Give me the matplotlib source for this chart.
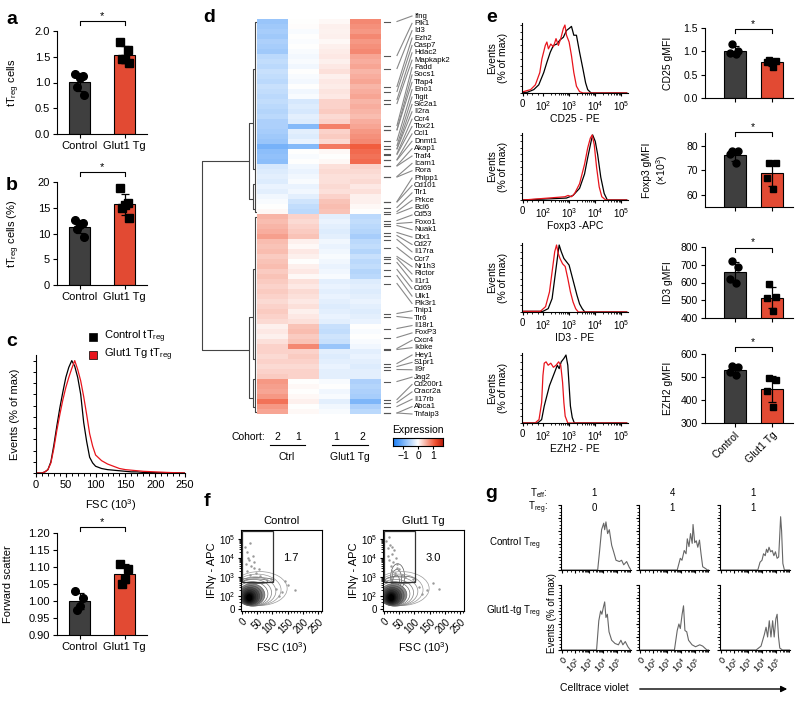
import numpy as np
import matplotlib
matplotlib.use('Agg')
import matplotlib.pyplot as plt
from matplotlib.patches import Rectangle, Ellipse
from matplotlib.colors import LinearSegmentedColormap

plt.rcParams['font.family'] = ['Liberation Sans', 'DejaVu Sans']
plt.rcParams['mathtext.fontset'] = 'custom'
plt.rcParams['mathtext.rm'] = 'Liberation Sans'
plt.rcParams['mathtext.it'] = 'Liberation Sans:italic'
plt.rcParams['mathtext.default'] = 'regular'
plt.rcParams['axes.linewidth'] = 0.8
plt.rcParams['xtick.major.width'] = 0.8
plt.rcParams['ytick.major.width'] = 0.8

# ------------------------------------------------------------------ DATA
groups = ['Control', 'Glut1 Tg']
a_ctrl = [1.17, 1.12, 1.09, 0.91, 0.75]
a_tg = [1.79, 1.63, 1.45, 1.45, 1.38]
b_ctrl = [12.7, 12.0, 11.6, 10.8, 9.4]
b_tg = [18.8, 15.9, 15.5, 14.9, 13.1]
fsc_ctrl = [1.03, 1.01, 0.985, 0.975]
fsc_tg = [1.11, 1.095, 1.065, 1.05]

c_x = [0, 10, 15, 20, 25, 30, 35, 40, 45, 50, 55, 60, 65, 70, 75, 80, 85, 90, 95, 100,
       110, 120, 130, 140, 150, 160, 170, 180, 200, 220, 250]
c_ctrl = [0, 0, 1, 3, 10, 25, 42, 58, 72, 85, 94, 100, 95, 85, 70, 45, 28, 14, 9, 6,
          4, 3, 2.5, 2, 1.5, 1, 1, 0.5, 0.3, 0.2, 0]
c_tg = [0, 0, 1, 3, 9, 22, 38, 52, 65, 76, 85, 93, 100, 92, 82, 68, 52, 35, 24, 16,
        11, 8, 6, 4, 3, 2.5, 2, 1.5, 1, 0.5, 0]

# heatmap (rows x 4 columns: Ctrl cohort2, Ctrl cohort1, Glut1 cohort1, Glut1 cohort2)
hm_ctrl2 = [-0.75, -0.7, -0.65, -0.7, -0.6, -0.65, -0.7, -0.5, -0.45, -0.5, -0.4, -0.45, -0.5, -0.4, -0.45, -0.5,
            -0.45, -0.5, -0.55, -0.5, -0.6, -0.6, -0.65, -0.7, -0.75, -1.0, -0.85, -0.8, -0.85, -0.3, -0.25,
            -0.2, -0.25, -0.15, -0.2, -0.1, -0.05, 0.0, 0.05,
            0.5, 0.45, 0.5, 0.55, 0.65, 0.45, 0.4, 0.45, 0.35, 0.4, 0.45, 0.35, 0.4,
            0.35, 0.3, 0.35, 0.3, 0.25, 0.3, 0.35, 0.3, 0.25, 0.1, 0.15, 0.1, 0.2, 0.3,
            0.3, 0.25, 0.3, 0.25, 0.3, 0.35, 0.7, 0.65, 0.6, 0.7, 0.95, 0.7, 0.6]
hm_ctrl1 = [0.0, 0.02, -0.05, 0.0, -0.03, 0.0, -0.05, -0.08, -0.05, -0.1, 0.0, -0.05, -0.08, 0.0, -0.1, -0.05,
            -0.3, -0.25, -0.3, -0.2, -0.25, -0.9, -0.2, -0.25, -0.15, -0.9, 0.0, -0.05, 0.0, -0.1, -0.15,
            -0.1, -0.05, -0.15, -0.1, -0.2, -0.35, -0.45, -0.5,
            0.3, 0.25, 0.3, 0.35, 0.4, 0.1, 0.05, 0.15, 0.1, 0.0, 0.1, 0.15, 0.05,
            0.2, 0.15, 0.25, 0.2, 0.15, 0.2, 0.1, 0.15, 0.2, 0.4, 0.45, 0.35, 0.4, 0.8,
            0.3, 0.35, 0.3, 0.25, 0.3, 0.3, 0.0, 0.05, 0.0, 0.05, 0.1, 0.0, 0.05]
hm_tg1 = [0.05, 0.1, 0.08, 0.1, 0.05, 0.1, 0.12, 0.15, 0.1, 0.15, 0.2, 0.1, 0.15, 0.12, 0.18, 0.15,
          0.3, 0.3, 0.35, 0.25, 0.3, 0.85, 0.3, 0.35, 0.25, 0.9, 0.05, 0.0, 0.05, 0.2, 0.25,
          0.2, 0.2, 0.25, 0.2, 0.3, 0.4, 0.45, 0.4,
          -0.2, -0.15, -0.2, -0.25, -0.2, -0.1, -0.15, -0.1, -0.05, -0.1, -0.15, -0.1, -0.05,
          -0.2, -0.15, -0.2, -0.15, -0.2, -0.25, -0.2, -0.15, -0.2, -0.4, -0.45, -0.35, -0.4, -0.75,
          -0.2, -0.25, -0.2, -0.15, -0.2, -0.2, -0.05, 0.0, -0.1, -0.05, -0.2, -0.1, -0.05]
hm_tg2 = [0.8, 0.75, 0.7, 0.8, 0.7, 0.75, 0.8, 0.6, 0.55, 0.6, 0.5, 0.55, 0.6, 0.5, 0.55, 0.6,
          0.5, 0.55, 0.5, 0.45, 0.55, 0.6, 0.7, 0.75, 0.8, 1.1, 1.0, 0.95, 1.0, 0.3, 0.25,
          0.2, 0.25, 0.15, 0.2, 0.1, 0.1, 0.05, 0.0,
          -0.5, -0.45, -0.5, -0.55, -0.65, -0.5, -0.45, -0.55, -0.4, -0.5, -0.45, -0.55, -0.5,
          -0.25, -0.2, -0.25, -0.2, -0.15, -0.2, -0.25, -0.2, -0.15, 0.0, -0.05, 0.0, -0.05, -0.1,
          -0.2, -0.15, -0.2, -0.25, -0.2, -0.2, -0.6, -0.55, -0.6, -0.65, -0.95, -0.6, -0.5]
cohorts = ['2', '1', '1', '2']
hm_groups = ['Ctrl', 'Glut1 Tg']

genes = ['Ifng', 'Plk1', 'Id3', 'Ezh2', 'Casp7', 'Hdac2', 'Mapkapk2', 'Fadd', 'Socs1', 'Tfap4', 'Eno1',
         'Tigit', 'Slc2a1', 'Il2ra', 'Ccr4', 'Tbx21', 'Ccl1', 'Dnmt1', 'Akap1', 'Traf4', 'Icam1', 'Rora',
         'Phlpp1', 'Cd101', 'Tlr1', 'Prkce', 'Bcl6', 'Cd53', 'Foxo1', 'Nuak1', 'Dtx1', 'Cd27', 'Il17ra',
         'Ccr7', 'Nr1h3', 'Rictor', 'Il1r1', 'Cd69', 'Ulk1', 'Pik3r1', 'Tnip1', 'Tlr6', 'Il18r1', 'FoxP3',
         'Cxcr4', 'Ikbke', 'Hey1', 'S1pr1', 'Il9r', 'Jag2', 'Cd200r1', 'Cracr2a', 'Il17rb', 'Abca1', 'Tnfaip3']
gene_rows = [0.0, 6.8, 9.4, 13.0, 14.0, 15.6, 16.4, 20.8, 21.6, 21.7, 23.8, 24.8, 25.4, 25.5, 26.4, 26.6,
             27.6, 27.7, 28.8, 28.9, 31.0, 31.1, 36.0, 36.1, 37.2, 38.0, 38.4,
             39.8, 40.4, 40.8, 42.2, 42.8, 43.6, 45.2, 47.0, 47.4, 48.2, 49.6, 50.8, 52.4, 58.4, 59.0,
             61.4, 63.2, 65.4, 65.6, 68.4, 69.0, 69.6, 72.0, 75.6, 76.2, 77.0, 78.4, 78.8]
# dendrogram links: (height, y_top, y_bottom, child_height_top, child_height_bottom)
dendro_links = [(1.0, 28.4, 66.2, 0.14, 0.14),
                (0.14, 20.8, 36.0, 0.07, 0.07),
                (0.14, 59.6, 75.8, 0.07, 0.07),
                (0.07, 10.0, 30.0, 0.035, 0.035),
                (0.07, 33.0, 38.0, 0.035, 0.035),
                (0.07, 50.0, 68.0, 0.035, 0.035),
                (0.07, 72.0, 77.5, 0.035, 0.035),
                (0.035, 0.5, 38.5, 0.0, 0.0),
                (0.035, 39.5, 78.5, 0.0, 0.0)]

# panel e histograms (x in log10 display units)
cd25_r_x = [1.25, 1.53, 1.71, 1.88, 1.96, 2.09, 2.15, 2.21, 2.3, 2.4, 2.5, 2.59, 2.68, 2.78, 2.84, 2.9, 3.0, 3.09, 3.18, 3.28, 3.4, 3.53, 5.2]
cd25_r_y = [0.02, 0.05, 0.12, 0.3, 0.5, 0.7, 0.75, 0.65, 0.72, 0.68, 0.8, 0.7, 0.8, 0.95, 1.0, 0.85, 0.75, 0.55, 0.3, 0.1, 0.02, 0, 0]
cd25_k_x = [1.25, 1.4, 1.65, 1.84, 2.03, 2.15, 2.28, 2.4, 2.53, 2.65, 2.78, 2.9, 3.0, 3.09, 3.18, 3.28, 3.4, 3.53, 3.63, 3.71, 3.84, 5.2]
cd25_k_y = [0.01, 0.01, 0.05, 0.12, 0.3, 0.45, 0.6, 0.7, 0.72, 0.78, 0.82, 0.92, 0.95, 0.98, 0.85, 0.85, 0.6, 0.35, 0.15, 0.05, 0, 0]
foxp3_r_x = [1.25, 2.84, 2.96, 3.09, 3.21, 3.4, 3.59, 3.71, 3.81, 3.88, 3.96, 4.05, 4.15, 4.25, 4.4, 5.2]
foxp3_r_y = [0.0, 0.05, 0.07, 0.05, 0.1, 0.25, 0.55, 0.8, 0.95, 1.0, 0.85, 0.5, 0.2, 0.05, 0, 0]
foxp3_k_x = [1.25, 2.9, 3.15, 3.4, 3.59, 3.71, 3.84, 3.9, 4.0, 4.09, 4.21, 4.34, 4.46, 5.2]
foxp3_k_y = [0.0, 0.03, 0.07, 0.18, 0.4, 0.65, 0.9, 1.0, 0.9, 0.7, 0.35, 0.1, 0, 0]
id3_r_x = [1.25, 1.9, 2.1, 2.25, 2.35, 2.45, 2.52, 2.58, 2.65, 2.75, 2.85, 2.95, 3.05, 3.15, 3.25, 3.35, 5.2]
id3_r_y = [0.01, 0.01, 0.08, 0.3, 0.6, 0.9, 1.0, 0.88, 0.8, 0.72, 0.68, 0.5, 0.3, 0.15, 0.05, 0, 0]
id3_k_x = [1.25, 2.0, 2.2, 2.35, 2.45, 2.55, 2.62, 2.7, 2.8, 2.9, 3.0, 3.1, 3.2, 3.3, 3.4, 3.5, 3.6, 5.2]
id3_k_y = [0.01, 0.01, 0.05, 0.2, 0.5, 0.8, 1.0, 0.9, 0.8, 0.75, 0.7, 0.55, 0.4, 0.25, 0.12, 0.05, 0, 0]
ezh2_r_x = [1.25, 1.7, 1.85, 1.95, 2.0, 2.05, 2.12, 2.2, 2.3, 2.4, 2.5, 2.6, 2.68, 2.75, 2.8, 2.85, 2.95, 5.2]
ezh2_r_y = [0.0, 0.0, 0.05, 0.3, 0.7, 0.88, 0.9, 0.85, 0.88, 0.82, 0.85, 0.9, 0.85, 0.6, 0.3, 0.1, 0, 0]
ezh2_k_x = [1.25, 1.8, 1.95, 2.05, 2.15, 2.25, 2.35, 2.45, 2.55, 2.62, 2.7, 2.8, 2.88, 2.95, 3.0, 3.05, 3.12, 3.2, 5.2]
ezh2_k_y = [0.0, 0.0, 0.05, 0.25, 0.4, 0.55, 0.65, 0.75, 0.85, 0.8, 0.9, 0.95, 1.0, 0.85, 0.55, 0.25, 0.08, 0, 0]

# panel e gMFI bars
cd25_ctrl = [1.15, 1.0, 0.97, 0.95]
cd25_tg = [0.82, 0.8, 0.78, 0.66]
foxp3_ctrl = [78.0, 78.0, 76.5, 73.0]
foxp3_tg = [73.0, 73.0, 67.0, 62.5]
id3_ctrl = [720, 690, 620, 600]
id3_tg = [590, 520, 510, 440]
ezh2_ctrl = [550, 545, 520, 510]
ezh2_tg = [495, 485, 440, 370]

# panel f (FSC vs IFNg); contour rings: centre x, centre y, width, height
f_titles = ['Control', 'Glut1 Tg']
f_gate_pct = ['1.7', '3.0']
f_ring_cx = [24, 24, 25, 26, 27, 29, 31, 34, 38, 43, 50, 58]
f_ring_cy = [1.92, 1.93, 1.95, 1.97, 2.0, 2.03, 2.07, 2.12, 2.18, 2.25, 2.33, 2.4]
f_ring_w = [22, 32, 42, 52, 62, 74, 88, 102, 118, 136, 156, 180]
f_ring_h = [0.4, 0.55, 0.68, 0.8, 0.92, 1.04, 1.16, 1.28, 1.4, 1.52, 1.65, 1.78]
f_ctrl_lobe = [(50, 2.82, 110, 0.3), (45, 2.78, 80, 0.25)]
f_tg_lobe = [(45, 3.0, 46, 1.4), (42, 2.9, 32, 1.0), (40, 2.8, 22, 0.6), (55, 2.85, 100, 0.4)]
f_ctrl_dots_x = [10, 15, 22, 30, 35, 18, 40, 25, 12, 45, 28, 55, 20, 38, 60, 110, 130, 150, 120, 175, 95, 140]
f_ctrl_dots_y = [4.6, 4.3, 3.9, 3.6, 4.1, 3.3, 3.5, 4.8, 3.7, 3.2, 3.1, 3.4, 4.0, 3.8, 3.05, 2.4, 2.2, 2.6, 2.0, 2.3, 2.9, 2.8]
f_tg_dots_x = [8, 14, 20, 26, 32, 16, 22, 30, 38, 44, 12, 25, 35, 50, 18, 28, 42, 60, 115, 140, 160, 125, 180, 70, 95]
f_tg_dots_y = [4.9, 4.5, 4.7, 4.2, 4.4, 3.9, 3.6, 3.8, 4.0, 3.5, 4.1, 3.3, 3.2, 3.4, 5.1, 4.6, 3.7, 3.1, 2.5, 2.3, 2.7, 2.1, 2.4, 3.0, 2.9]

# panel g (Celltrace violet proliferation)
g_teff = ['1', '4', '1']
g_treg = ['0', '1', '1']
g_rows = ['Control T$_{reg}$', 'Glut1-tg T$_{reg}$']
g11_x = [1.0, 3.62, 3.76, 3.90, 4.05, 4.12, 4.21, 4.33, 4.45, 4.62, 4.76, 4.93, 5.17, 5.33, 5.48, 5.69, 5.88, 6.0]
g11_y = [0, 0, 0.3, 0.62, 0.72, 0.62, 0.74, 0.56, 0.62, 0.38, 0.28, 0.15, 0.13, 0.15, 0.08, 0.13, 0.04, 0]
g12_x = [1.0, 3.73, 3.95, 4.07, 4.23, 4.36, 4.45, 4.57, 4.68, 4.80, 4.86, 4.98, 5.09, 5.2, 5.32, 5.43, 5.55, 5.77, 5.88, 6.0]
g12_y = [0, 0, 0.18, 0.15, 0.3, 0.25, 0.48, 0.36, 0.56, 0.41, 0.7, 0.42, 0.45, 0.35, 0.46, 0.25, 0.05, 0.02, 0, 0]
g13_x = [1.0, 3.7, 3.86, 4.0, 4.11, 4.23, 4.32, 4.41, 4.5, 4.62, 4.73, 4.85, 4.96, 5.08, 5.19, 5.26, 5.33, 5.4, 5.49, 5.6, 6.0]
g13_y = [0, 0, 0.12, 0.15, 0.25, 0.22, 0.32, 0.27, 0.35, 0.28, 0.3, 0.22, 0.28, 0.18, 0.2, 0.5, 0.82, 0.6, 0.1, 0, 0]
g21_x = [1.0, 3.54, 3.7, 3.83, 3.92, 4.02, 4.12, 4.21, 4.31, 4.43, 4.62, 4.86, 5.1, 5.28, 5.42, 5.59, 5.78, 5.95, 6.0]
g21_y = [0, 0, 0.45, 0.6, 0.55, 0.65, 0.74, 0.5, 0.55, 0.28, 0.15, 0.1, 0.08, 0.15, 0.08, 0.13, 0.05, 0, 0]
g22_x = [1.0, 3.53, 3.73, 3.85, 3.95, 4.08, 4.18, 4.28, 4.41, 4.54, 4.79, 5.04, 5.34, 5.55, 5.85, 6.0]
g22_y = [0, 0, 0.3, 0.4, 0.33, 0.55, 0.68, 0.3, 0.28, 0.15, 0.08, 0.05, 0.08, 0.06, 0, 0]
g23_x = [1.0, 3.58, 3.93, 4.17, 4.29, 4.4, 4.52, 4.64, 4.76, 4.87, 4.99, 5.08, 5.18, 5.27, 5.46, 6.0]
g23_y = [0, 0, 0.06, 0.24, 0.35, 0.2, 0.45, 0.2, 0.45, 0.2, 0.48, 0.55, 0.2, 0.03, 0, 0]

# ------------------------------------------------------------------ STYLE / LAYOUT
W, H = 800, 701
C_CTRL = '#3f3f3f'
C_TG = '#e24a33'
fig = plt.figure(figsize=(8, 7.01), dpi=100)
fig.patch.set_facecolor('white')


def add_ax(x0, y0, x1, y1):
    return fig.add_axes([x0 / W, 1 - y1 / H, (x1 - x0) / W, (y1 - y0) / H])


def ftext(x, y, s, **kw):
    kw.setdefault('ha', 'center')
    kw.setdefault('va', 'center')
    return fig.text(x / W, 1 - y / H, s, **kw)


def fline(xs, ys, **kw):
    fig.add_artist(plt.Line2D([x / W for x in xs], [1 - y / H for y in ys], **kw))


def bar_panel(rect, ctrl, tg, ylim, yticks, yfmt, ylabel, ylab_x, bracket, xlim=(-0.5, 1.5),
              bw=0.45, fs=8, show_xlabels=True, rotate=False, ms=5.5, jit=None):
    ax = add_ax(*rect)
    vals = [ctrl, tg]
    means = [np.mean(v) for v in vals]
    sds = [np.std(v, ddof=1) for v in vals]
    ax.bar([0, 1], means, width=bw, color=[C_CTRL, C_TG], edgecolor='black', linewidth=0.8, zorder=1)
    ax.errorbar([0, 1], means, yerr=sds, fmt='none', ecolor='black', elinewidth=0.9,
                capsize=3, capthick=0.9, zorder=3)
    if jit is None:
        jit = [-0.1, 0.08, 0.0, -0.05, 0.1]
    for i, (v, m) in enumerate(zip(vals, ['o', 's'])):
        ax.plot([i + jit[k % len(jit)] for k in range(len(v))], v, ls='none', marker=m, ms=ms,
                color='black', zorder=4, clip_on=False)
    ax.set_xlim(*xlim)
    ax.set_ylim(*ylim)
    ax.set_yticks(yticks)
    ax.set_yticklabels([yfmt.format(t) for t in yticks], fontsize=fs)
    ax.set_xticks([0, 1])
    if show_xlabels:
        if rotate:
            ax.set_xticklabels(groups, fontsize=fs, rotation=45, ha='right', rotation_mode='anchor')
        else:
            ax.set_xticklabels(groups, fontsize=fs)
    else:
        ax.set_xticklabels([])
    ax.tick_params(length=3, width=0.8, pad=2)
    for s in ['top', 'right']:
        ax.spines[s].set_visible(False)
    ax.set_ylabel(ylabel, fontsize=fs)
    x0, y0, x1, y1 = rect
    ax.yaxis.set_label_coords((ylab_x - x0) / (x1 - x0), 0.5)
    # significance bracket
    d = 4 * (ylim[1] - ylim[0]) / (y1 - y0)
    ax.plot([0, 0, 1, 1], [bracket - d, bracket, bracket, bracket - d], color='black', lw=0.8, clip_on=False)
    ax.annotate('*', xy=(0.5, bracket), xytext=(0, 0), textcoords='offset points', ha='center',
                va='bottom', fontsize=fs, annotation_clip=False)
    return ax


# ------------------------------------------------------------------ panel labels
for lab, x, y in [('a', 12, 20), ('b', 12, 185), ('c', 12, 342), ('d', 209, 18), ('e', 492, 18),
                  ('f', 207, 502), ('g', 491, 493)]:
    ftext(x, y, lab, fontsize=14, fontweight='bold')

# ------------------------------------------------------------------ a, b
bar_panel((57, 31, 147, 134), a_ctrl, a_tg, (0, 2), [0, 0.5, 1.0, 1.5, 2.0], '{:.1f}',
          'tT$_{reg}$ cells', 22, 2.2)
bar_panel((57, 182, 147, 285), b_ctrl, b_tg, (0, 20), [0, 5, 10, 15, 20], '{:g}',
          'tT$_{reg}$ cells (%)', 22, 22.0)

# ------------------------------------------------------------------ c histogram
axc = add_ax(36, 355, 185, 473)
axc.plot(c_x, c_ctrl, color='black', lw=0.9)
axc.plot(c_x, c_tg, color='#e8141c', lw=0.9)
axc.set_xlim(0, 250)
axc.set_ylim(0, 105)
axc.set_xticks([0, 50, 100, 150, 200, 250])
axc.set_xticklabels(['0', '50', '100', '150', '200', '250'], fontsize=8)
axc.set_xticks(np.arange(0, 251, 10), minor=True)
axc.set_yticks([])
axc.set_yticks(np.arange(0, 101, 10), minor=True)
axc.tick_params(which='major', length=3, pad=2)
axc.tick_params(which='minor', length=2, width=0.7)
for s in ['top', 'right']:
    axc.spines[s].set_visible(False)
axc.set_xlabel('FSC (10$^3$)', fontsize=8, labelpad=5)
axc.set_ylabel('Events (% of max)', fontsize=8, labelpad=6)
# legend
for i, (lab, col) in enumerate([('Control tT$_{reg}$', 'black'), ('Glut1 Tg tT$_{reg}$', '#e8141c')]):
    yy = 337 + i * 18
    fig.add_artist(Rectangle(((93 - 4) / W, 1 - (yy + 4) / H), 8 / W, 8 / H, facecolor=col,
                             edgecolor='black', lw=0.5, transform=fig.transFigure))
    ftext(104, yy, lab, fontsize=8, ha='left')

bar_panel((57, 533, 147, 635), fsc_ctrl, fsc_tg, (0.9, 1.2), [0.90, 0.95, 1.00, 1.05, 1.10, 1.15, 1.20],
          '{:.2f}', 'Forward scatter', 13, 1.217)

# ------------------------------------------------------------------ d heatmap
hm = np.column_stack([hm_ctrl2, hm_ctrl1, hm_tg1, hm_tg2])
nrows = hm.shape[0]
cmap = LinearSegmentedColormap.from_list('expr', [(0, '#1a7ef5'), (0.5, '#ffffff'), (0.85, '#f0502f'),
                                                  (1.0, '#b81c0c')])
VMIN, VMAX = -1.7, 1.7
axh = add_ax(257, 19, 381, 414)
axh.imshow(hm, aspect='auto', cmap=cmap, vmin=VMIN, vmax=VMAX, interpolation='nearest',
           extent=(0, 4, nrows, 0))
axh.axis('off')

# dendrogram
axd = add_ax(200, 19, 257, 414)
for h, yt, yb, ht, hb in dendro_links:
    axd.plot([ht, h, h, hb], [yt, yt, yb, yb], color='#444444', lw=0.8, solid_capstyle='butt')
axd.set_xlim(1.035, 0)
axd.set_ylim(nrows, 0)
axd.axis('off')

# gene ticks, connectors and labels
axg = add_ax(381, 19, 480, 414)
axg.set_xlim(381, 480)
axg.set_ylim(nrows, 0)
axg.axis('off')
lab_y = np.linspace(-0.6, nrows, len(genes))
for g, r, ly in zip(genes, gene_rows, lab_y):
    yy = min(r + 0.5, nrows - 0.2)
    axg.plot([384, 390], [yy, yy], color='#555555', lw=0.8, clip_on=False)
    axg.plot([397, 412], [yy, ly], color='#888888', lw=0.8, clip_on=False)
    axg.text(414, ly, g, fontsize=5.6, ha='left', va='center', clip_on=False)

# cohort annotation
ftext(248, 437, 'Cohort:', fontsize=7.5)
for x, c in zip([277, 298, 336, 362], cohorts):
    ftext(x, 437, c, fontsize=7.5)
fline([270, 305], [445, 445], color='black', lw=0.8)
fline([332, 368], [445, 445], color='black', lw=0.8)
ftext(287, 457, hm_groups[0], fontsize=7.5)
ftext(350, 457, hm_groups[1], fontsize=7.5)

# colorbar
axcb = add_ax(393, 438, 443, 446)
axcb.imshow(np.linspace(VMIN, VMAX, 200)[None, :], aspect='auto', cmap=cmap, vmin=VMIN, vmax=VMAX,
            extent=(VMIN, VMAX, 0, 1))
axcb.set_yticks([])
axcb.set_xticks([-1, 0, 1])
axcb.set_xticklabels(['\u22121', '0', '1'], fontsize=7.5)
axcb.tick_params(length=2, pad=1.5)
ftext(418, 430, 'Expression', fontsize=7.5)

# ------------------------------------------------------------------ e histograms
e_hists = [((522, 23, 628, 93), cd25_r_x, cd25_r_y, cd25_k_x, cd25_k_y, 'CD25 - PE'),
           ((522, 133, 628, 200), foxp3_r_x, foxp3_r_y, foxp3_k_x, foxp3_k_y, 'Foxp3 -APC'),
           ((522, 243, 628, 312), id3_r_x, id3_r_y, id3_k_x, id3_k_y, 'ID3 - PE'),
           ((522, 353, 628, 423), ezh2_r_x, ezh2_r_y, ezh2_k_x, ezh2_k_y, 'EZH2 - PE')]
for rect, rx, ry, kx, ky, xl in e_hists:
    ax = add_ax(*rect)
    ax.plot(kx, ky, color='black', lw=0.9)
    ax.plot(rx, ry, color='#e8141c', lw=0.9)
    ax.set_xlim(1.2, 5.25)
    ax.set_ylim(0, 1.03)
    ax.set_xticks([1.23, 2, 3, 4, 5])
    ax.set_xticklabels(['0', '$10^2$', '$10^3$', '$10^4$', '$10^5$'], fontsize=7)
    minors = [np.log10(k * 10 ** d) for d in (2, 3, 4) for k in range(2, 10)] + [1.4, 1.6, 1.8]
    ax.set_xticks(minors, minor=True)
    ax.set_yticks([])
    ax.set_yticks(np.arange(0, 1.01, 0.1), minor=True)
    ax.tick_params(which='major', length=2.5, pad=2)
    ax.tick_params(which='minor', length=1.5, width=0.6)
    for s in ['top', 'right']:
        ax.spines[s].set_visible(False)
    ax.set_xlabel(xl, fontsize=7.5, labelpad=1)
    ax.set_ylabel('Events\n(% of max)', fontsize=7.5, labelpad=5, linespacing=1.1)

# e bar charts
ejit = [-0.08, 0.1, -0.12, 0.04]
bar_panel((705, 28, 793, 98), cd25_ctrl, cd25_tg, (0, 1.5), [0.0, 0.5, 1.0, 1.5], '{:.1f}',
          'CD25 gMFI', 673, 1.47, xlim=(-0.8, 1.57), bw=0.6, fs=7.5, show_xlabels=False, jit=ejit, ms=5)
bar_panel((705, 133, 793, 207), foxp3_ctrl, foxp3_tg, (55, 85.3), [60, 70, 80], '{:g}',
          'Foxp3 gMFI\n(\u00d710$^3$)', 670, 85.7, xlim=(-0.8, 1.57), bw=0.6, fs=7.5,
          show_xlabels=False, jit=ejit, ms=5)
bar_panel((705, 247, 793, 318), id3_ctrl, id3_tg, (400, 800), [400, 500, 600, 700, 800], '{:g}',
          'ID3 gMFI', 673, 797, xlim=(-0.8, 1.57), bw=0.6, fs=7.5, show_xlabels=False, jit=ejit, ms=5)
bar_panel((705, 354, 793, 423), ezh2_ctrl, ezh2_tg, (300, 600), [300, 400, 500, 600], '{:g}',
          'EZH2 gMFI', 673, 632, xlim=(-0.8, 1.57), bw=0.6, fs=7.5, show_xlabels=True, rotate=True,
          jit=ejit, ms=5)

# ------------------------------------------------------------------ f
for i, (x0, title, pct, dx, dy, lobes) in enumerate(
        [(241, f_titles[0], f_gate_pct[0], f_ctrl_dots_x, f_ctrl_dots_y, f_ctrl_lobe),
         (383, f_titles[1], f_gate_pct[1], f_tg_dots_x, f_tg_dots_y, f_tg_lobe)]):
    ax = add_ax(x0, 530, x0 + 81, 611)
    ax.set_xlim(-3, 262)
    ax.set_ylim(1.22, 5.47)
    ax.plot(dx, dy, ls='none', marker='.', ms=1.5, color='#999999')
    for cx, cy, w, h in lobes:
        ax.add_patch(Ellipse((cx, cy), w, h, fill=False, edgecolor='#555555', lw=0.5))
    n = len(f_ring_w)
    for k in range(n - 1, -1, -1):
        frac = k / (n - 1)
        if k < 4:
            fc = str(0.0 + 0.08 * k)
        elif k < 7:
            fc = str(0.3 + 0.12 * (k - 4))
        else:
            fc = 'none'
        ec = str(min(0.05 + 0.6 * frac, 0.6))
        ax.add_patch(Ellipse((f_ring_cx[k], f_ring_cy[k]), f_ring_w[k], f_ring_h[k],
                             facecolor=fc, edgecolor=ec, lw=0.5))
    ax.add_patch(Rectangle((0, 2.75), 103, 2.68, fill=False, edgecolor='#333333', lw=0.9))
    ax.text(160, 4.0, pct, fontsize=8, ha='center', va='center')
    ax.set_yticks([1.32, 2, 3, 4, 5])
    ax.set_yticklabels(['0', '$10^2$', '$10^3$', '$10^4$', '$10^5$'], fontsize=7)
    ax.set_yticks([np.log10(k * 10 ** d) for d in (2, 3, 4) for k in range(2, 10)] + [1.5, 1.7, 1.85],
                  minor=True)
    ax.set_xticks([0, 50, 100, 150, 200, 250])
    ax.set_xticklabels(['0', '50', '100', '150', '200', '250'], fontsize=7, rotation=45, ha='right',
                       rotation_mode='anchor')
    ax.set_xticks(np.arange(0, 261, 10), minor=True)
    ax.tick_params(which='major', length=2.5, pad=1.5)
    ax.tick_params(which='minor', length=1.5, width=0.6)
    ax.set_title(title, fontsize=8, pad=4)
    ax.set_xlabel('FSC (10$^3$)', fontsize=8, labelpad=4)
    ax.set_ylabel('IFN\u03b3 - APC', fontsize=8, labelpad=1)

# ------------------------------------------------------------------ g
ftext(548, 493, 'T$_{eff}$:', fontsize=7, ha='right')
ftext(548, 508, 'T$_{reg}$:', fontsize=7, ha='right')
g_cols = [(561, 631), (639, 709), (720, 790)]
for (xa, xb), te, tr in zip(g_cols, g_teff, g_treg):
    ftext((xa + xb) / 2 - 2, 493, te, fontsize=7)
    ftext((xa + xb) / 2 - 2, 508, tr, fontsize=7)
ftext(541, 544, g_rows[0], fontsize=7, ha='right')
ftext(541, 612, g_rows[1], fontsize=7, ha='right')
g_data = [[(g11_x, g11_y), (g12_x, g12_y), (g13_x, g13_y)],
          [(g21_x, g21_y), (g22_x, g22_y), (g23_x, g23_y)]]
for r, (ya, yb) in enumerate([(505, 570), (585, 650)]):
    for c, (xa, xb) in enumerate(g_cols):
        ax = add_ax(xa, ya, xb, yb)
        gx, gy = g_data[r][c]
        ax.plot(gx, gy, color='#666666', lw=0.8)
        ax.set_xlim(1.0, 6.0)
        ax.set_ylim(0, 1.0)
        ax.set_xticks([1.1, 2, 3, 4, 5])
        if r == 1:
            ax.set_xticklabels(['0', '$10^2$', '$10^3$', '$10^4$', '$10^5$'], fontsize=6.5, rotation=45,
                               ha='right', rotation_mode='anchor')
        else:
            ax.set_xticklabels([])
        ax.set_xticks([np.log10(k * 10 ** d) for d in (2, 3, 4, 5) for k in range(2, 10)
                       if np.log10(k * 10 ** d) < 6] + [1.4, 1.7], minor=True)
        ax.set_yticks(np.arange(0, 1.01, 0.2))
        ax.set_yticklabels([])
        ax.set_yticks(np.arange(0, 1.01, 0.05), minor=True)
        ax.tick_params(which='major', length=2.5, pad=1.5)
        ax.tick_params(which='minor', length=1.3, width=0.6)
        for s in ['top', 'right']:
            ax.spines[s].set_visible(False)
ftext(552, 613, 'Events (% of max)', fontsize=7, rotation=90)
ftext(560, 688, 'Celltrace violet', fontsize=7.5, ha='left')
fig.add_artist(matplotlib.patches.FancyArrowPatch((637 / W, 1 - 689 / H), (790 / W, 1 - 689 / H),
                                                  transform=fig.transFigure, arrowstyle='-|>',
                                                  mutation_scale=9, lw=1.0, color='black'))

fig.savefig('out.png', dpi=100, facecolor='white')
